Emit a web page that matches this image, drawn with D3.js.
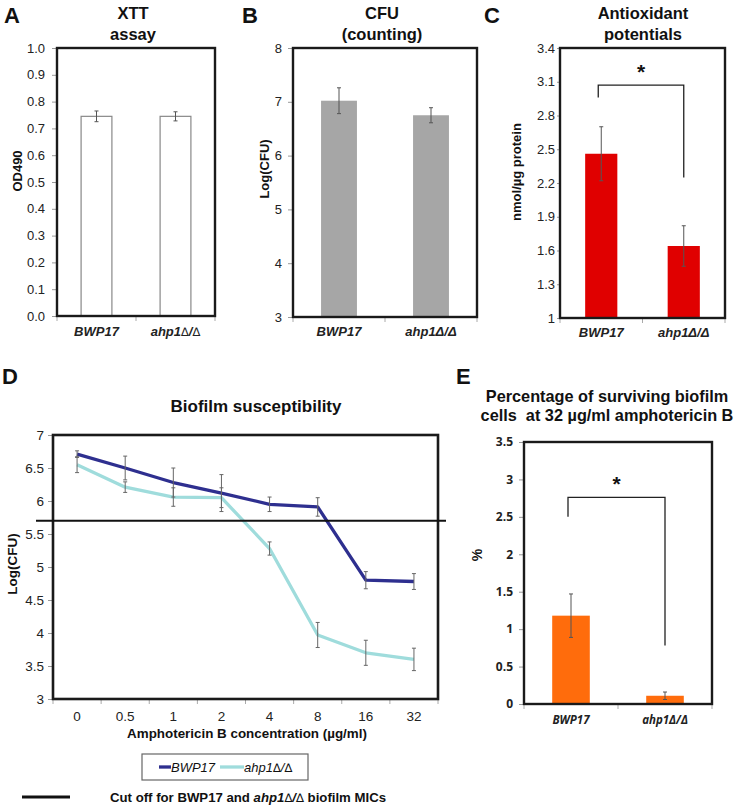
<!DOCTYPE html>
<html><head><meta charset="utf-8">
<script src="https://cdn.jsdelivr.net/npm/d3@7"></script>
<style>
body{margin:0;background:#fff;}
svg{display:block;font-family:"Liberation Sans",Arial,sans-serif;}
</style></head>
<body>
<svg id="chart" width="740" height="806"></svg>
<script>
// ---------- DATA ----------
const strains = ["BWP17", "ahp1Δ/Δ"];
const xttValues = [0.745, 0.745];
const xttErr = [0.02, 0.017];
const xttTicks = [0,0.1,0.2,0.3,0.4,0.5,0.6,0.7,0.8,0.9,1.0];

const cfuValues = [7.02, 6.75];
const cfuErr = [0.24, 0.14];
const cfuTicks = [3,4,5,6,7,8];

const antioxValues = [2.46, 1.64];
const antioxErr = [0.24, 0.18];
const antioxTicks = [1,1.3,1.6,1.9,2.2,2.5,2.8,3.1,3.4];

const concentrations = ["0","0.5","1","2","4","8","16","32"];
const bwp17Log = [6.71, 6.50, 6.28, 6.12, 5.95, 5.91, 4.80, 4.78];
const bwp17Err = [0.05, 0.18, 0.22, 0.28, 0.11, 0.14, 0.13, 0.12];
const ahpLog = [6.55, 6.21, 6.06, 6.05, 5.28, 3.97, 3.70, 3.60];
const ahpErr = [0.12, 0.08, 0.14, 0.15, 0.10, 0.19, 0.19, 0.17];
const biofilmTicks = [3,3.5,4,4.5,5,5.5,6,6.5,7];
const cutoff = 5.7;

const survivalValues = [1.18, 0.11];
const survivalErr = [0.29, 0.05];
const survivalTicks = [0,0.5,1,1.5,2,2.5,3,3.5];

// ---------- DRAW ----------
const svg = d3.select("#chart");

// write text where Δ is drawn thin (regular weight) like the source figure
function thinDeltaText(sel, s){
  s.split(/(Δ)/).filter(p=>p.length).forEach(p=>{
    const t = sel.append("tspan").text(p==="Δ" ? "∆" : p);
    if(p==="Δ") t.attr("font-weight","normal").attr("font-family","DejaVu Sans").attr("font-size","0.9em");
  });
}

function panelLetter(t, x, y){
  svg.append("text").attr("x",x).attr("y",y).text(t)
    .attr("font-size",22).attr("font-weight","bold").attr("fill","#111");
}
function title(lines, cx, y0, dy, fs){
  lines.forEach((l,i)=>svg.append("text").attr("x",cx).attr("y",y0+i*dy)
    .attr("text-anchor","middle").attr("font-size",fs||16.5).attr("font-weight","bold")
    .attr("fill","#111").attr("xml:space","preserve").style("white-space","pre").text(l));
}

function barPanel(o){
  const g = svg.append("g");
  const x = d3.scaleBand().domain(strains).range([o.x0,o.x1]).padding(0);
  const y = d3.scaleLinear().domain(o.domain).range([o.y1,o.y0]);
  const bw = x.bandwidth()*o.barFrac;
  const ya = g.append("g").attr("transform",`translate(${o.x0},0)`)
    .call(d3.axisLeft(y).tickValues(o.ticks).tickFormat(o.fmt).tickSize(o.tickLen||5).tickPadding(o.pad||5));
  ya.select(".domain").remove();
  ya.selectAll("line").attr("stroke","#999");
  ya.selectAll("text").attr("font-size",o.tfs||13).attr("fill","#222")
    .attr("font-weight",o.tbold?"bold":"normal")
    .attr("font-family",o.tfont||null);
  const bounds = [o.x0, ...strains.slice(1).map(s=>x(s)), o.x1];
  g.selectAll(".xt").data(bounds).join("line")
    .attr("x1",d=>d).attr("x2",d=>d).attr("y1",o.y1).attr("y2",o.y1+5)
    .attr("stroke","#aaa");
  g.selectAll(".bar").data(o.values).join("rect")
    .attr("x",(d,i)=>x(strains[i])+(x.bandwidth()-bw)/2)
    .attr("y",d=>y(d)).attr("width",bw).attr("height",d=>y(o.domain[0])-y(d))
    .attr("fill",o.fill).attr("stroke",o.stroke||"none").attr("stroke-width",1.2);
  o.values.forEach((v,i)=>{
    const cx = x(strains[i])+x.bandwidth()/2;
    const e = o.err[i];
    g.append("line").attr("x1",cx).attr("x2",cx).attr("y1",y(v+e)).attr("y2",y(Math.max(o.domain[0],v-e)))
      .attr("stroke","#555").attr("stroke-width",1);
    [v+e, v-e].forEach(t=>g.append("line").attr("x1",cx-2).attr("x2",cx+2).attr("y1",y(t)).attr("y2",y(t))
      .attr("stroke","#555").attr("stroke-width",1));
  });
  g.append("rect").attr("x",o.x0).attr("y",o.y0).attr("width",o.x1-o.x0).attr("height",o.y1-o.y0)
    .attr("fill","none").attr("stroke","#1a1a1a").attr("stroke-width",2.4);
  strains.forEach((s,i)=>{
    const t = g.append("text").attr("x",x(s)+x.bandwidth()/2).attr("y",o.y1+o.labDy)
      .attr("text-anchor","middle").attr("font-size",o.lfs||13).attr("font-weight","bold")
      .attr("font-style","italic").attr("fill","#222").attr("font-family",o.lfont||null);
    if(o.thinDelta) thinDeltaText(t, s); else t.text(s);
  });
  g.append("text").attr("transform",`translate(${o.ylabX},${o.ylabY}) rotate(-90)`)
    .attr("text-anchor","middle").attr("font-size",o.ylfs||13).attr("font-weight","bold").attr("fill","#111")
    .text(o.ylabel);
  if(o.bracket){
    const b = o.bracket;
    const xl = x(strains[0])+x.bandwidth()/2 + (b.lOff||0), xr = x(strains[1])+x.bandwidth()/2;
    g.append("path").attr("d",`M${xl},${y(b.l)}V${y(b.top)}H${xr}V${y(b.r)}`)
      .attr("fill","none").attr("stroke","#222").attr("stroke-width",1.3);
    g.append("text").attr("x",(xl+xr)/2).attr("y",y(b.top)-6).attr("text-anchor","middle")
      .attr("font-size",21).attr("font-weight","bold").attr("fill","#111").text("*");
  }
  return {x,y};
}

// Panel A
panelLetter("A",4,23);
title(["XTT","assay"],133,19,21);
barPanel({x0:57,x1:215,y0:48,y1:316,domain:[0,1],ticks:xttTicks,fmt:d3.format(".1f"),
  values:xttValues,err:xttErr,fill:"#fff",stroke:"#888",barFrac:0.39,labDy:20,thinDelta:true,
  pad:7,ylabel:"OD490",ylabX:22,ylabY:171});

// Panel B
panelLetter("B",242,23);
title(["CFU","(counting)"],382,19,21);
barPanel({x0:293,x1:477,y0:48,y1:317,domain:[3,8],ticks:cfuTicks,fmt:d3.format("d"),
  values:cfuValues,err:cfuErr,fill:"#a6a6a6",barFrac:0.39,labDy:19,
  pad:6,ylabel:"Log(CFU)",ylabX:269,ylabY:169});

// Panel C
panelLetter("C",484,23);
title(["Antioxidant","potentials"],643,19,21);
barPanel({x0:560,x1:725,y0:48,y1:318,domain:[1,3.4],ticks:antioxTicks,fmt:d3.format(".1~f"),
  values:antioxValues,err:antioxErr,fill:"#e00000",barFrac:0.39,labDy:19,
  tickLen:3,pad:2,ylabel:"nmol/µg protein",ylabX:521,ylabY:172,
  bracket:{top:3.07,l:2.96,r:2.25,lOff:-3}});

// Panel D
panelLetter("D",2,384);
title(["Biofilm susceptibility"],256,412,0,17);
(function(){
  const g = svg.append("g");
  const x0=53,x1=438,y0=435,y1=699;
  const xb = d3.scaleBand().domain(concentrations).range([x0,x1]).padding(0);
  const x = c=>xb(c)+xb.bandwidth()/2;
  const y = d3.scaleLinear().domain([3,7]).range([y1,y0]);
  const ya = g.append("g").attr("transform",`translate(${x0},0)`)
    .call(d3.axisLeft(y).tickValues(biofilmTicks).tickFormat(d3.format("~g")).tickSize(5).tickPadding(4));
  ya.select(".domain").remove();
  ya.selectAll("line").attr("stroke","#999");
  ya.selectAll("text").attr("font-size",13.5).attr("fill","#222");
  const bounds = concentrations.map(c=>xb(c)).concat([x1]);
  g.selectAll(".xt").data(bounds).join("line").attr("x1",d=>d).attr("x2",d=>d)
    .attr("y1",y1).attr("y2",y1+5).attr("stroke","#aaa");
  concentrations.forEach(c=>g.append("text").attr("x",x(c)).attr("y",y1+22).attr("text-anchor","middle")
    .attr("font-size",13.5).attr("fill","#222").text(c));
  const line = d3.line().x((d,i)=>x(concentrations[i])).y(d=>y(d));
  const series = [{v:ahpLog,e:ahpErr,c:"#9fdcdc"},{v:bwp17Log,e:bwp17Err,c:"#2e2f8f"}];
  series.forEach(s=>{
    g.append("path").datum(s.v).attr("d",line).attr("fill","none").attr("stroke",s.c).attr("stroke-width",3.3)
      .attr("stroke-linejoin","round");
  });
  series.forEach(s=>{
    s.v.forEach((v,i)=>{
      const cx=x(concentrations[i]), e=s.e[i];
      g.append("line").attr("x1",cx).attr("x2",cx).attr("y1",y(v+e)).attr("y2",y(v-e)).attr("stroke","#666").attr("stroke-width",1);
      [v+e,v-e].forEach(t=>g.append("line").attr("x1",cx-2).attr("x2",cx+2).attr("y1",y(t)).attr("y2",y(t)).attr("stroke","#666"));
    });
  });
  g.append("rect").attr("x",x0).attr("y",y0).attr("width",x1-x0).attr("height",y1-y0)
    .attr("fill","none").attr("stroke","#1a1a1a").attr("stroke-width",2.6);
  g.append("line").attr("x1",36).attr("x2",446).attr("y1",y(cutoff)).attr("y2",y(cutoff))
    .attr("stroke","#111").attr("stroke-width",2);
  g.append("text").attr("x",247).attr("y",738).attr("text-anchor","middle").attr("font-size",13.4)
    .attr("font-weight","bold").attr("fill","#111").text("Amphotericin B concentration (µg/ml)");
  g.append("text").attr("transform","translate(17,564) rotate(-90)").attr("text-anchor","middle")
    .attr("font-size",13.5).attr("font-weight","bold").attr("fill","#111").text("Log(CFU)");
  // legend
  g.append("rect").attr("x",142).attr("y",754).attr("width",166).attr("height",26)
    .attr("fill","#fff").attr("stroke","#666").attr("stroke-width",1.2);
  g.append("line").attr("x1",159).attr("x2",171).attr("y1",767).attr("y2",767).attr("stroke","#2e2f8f").attr("stroke-width",3.3);
  g.append("text").attr("x",171).attr("y",772).attr("font-size",13).attr("font-style","italic").attr("fill","#111").text(strains[0]);
  g.append("line").attr("x1",220).attr("x2",244).attr("y1",767).attr("y2",767).attr("stroke","#9fdcdc").attr("stroke-width",3.3);
  const lt = g.append("text").attr("x",244).attr("y",772).attr("font-size",13).attr("font-style","italic").attr("fill","#111");
  thinDeltaText(lt, strains[1]);
  // cutoff key
  g.append("line").attr("x1",22).attr("x2",70).attr("y1",797).attr("y2",797).attr("stroke","#111").attr("stroke-width",3);
  const t = g.append("text").attr("x",110).attr("y",802).attr("font-size",13.2).attr("font-weight","bold").attr("fill","#111");
  t.append("tspan").text("Cut off for BWP17 and ");
  const it = t.append("tspan").attr("font-style","italic");
  thinDeltaText(it, strains[1]);
  t.append("tspan").text(" biofilm MICs");
})();

// Panel E
panelLetter("E",456,384);
title(["Percentage of surviving biofilm","cells\u00a0 at 32 µg/ml amphotericin B"],607,402,19,16.3);
barPanel({x0:524,x1:712,y0:442,y1:704,domain:[0,3.5],ticks:survivalTicks,fmt:d3.format("~g"),
  values:survivalValues,err:survivalErr,fill:"#ff6c0c",barFrac:0.4,labDy:20,tbold:true,tfs:12,pad:6,
  tfont:"Open Sans",lfont:"Open Sans",lfs:11.5,
  ylabel:"%",ylabX:482,ylabY:555,ylfs:14,
  bracket:{top:2.76,l:2.5,r:0.78,lOff:-3}});
</script>
</body></html>
